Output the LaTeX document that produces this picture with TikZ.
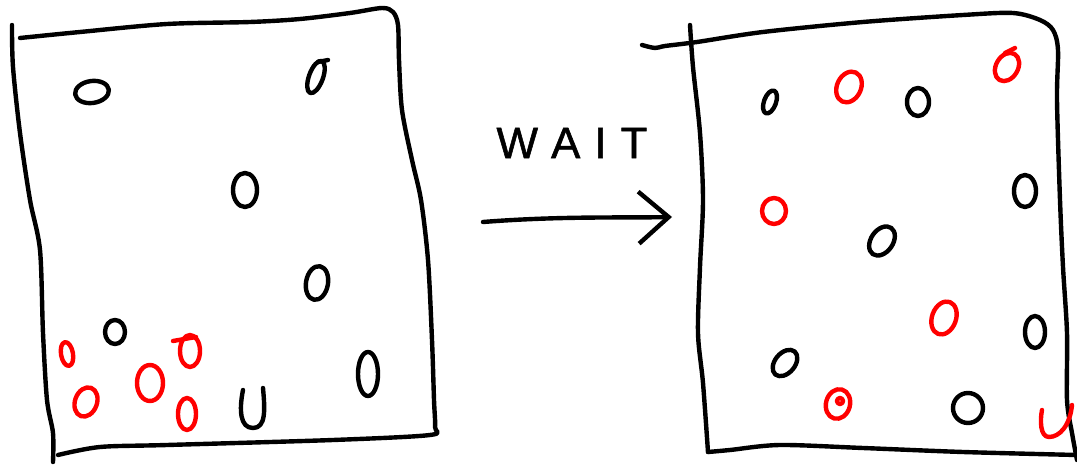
\documentclass[tikz,border=0pt]{standalone}
\usepackage{fontspec}
\setmainfont{Liberation Sans}
\newfontfamily\waitfont[FakeBold=1.2]{Liberation Sans}
\usetikzlibrary{arrows.meta}
\tikzset{
  hand/.style={line width=4.4pt, line cap=round, line join=round},
  blk/.style={hand, draw=black},
  rd/.style={hand, draw=red},
}
\newcommand{\blob}[6]{\draw[#6] (#1,#2) ellipse [x radius=#3pt, y radius=#4pt, rotate=#5];}
\begin{document}
\begin{tikzpicture}[x=1pt, y=-1pt]
\useasboundingbox (0,0) rectangle (1077,465);
% left box
\draw[blk] plot[smooth, tension=0.5] coordinates {(12,25) (13,67) (20,133) (30,200) (40,250) (43,333) (47,400) (53,433) (53,462)};
\draw[blk] plot[smooth, tension=0.5] coordinates {(20,38) (80,32) (167,24) (250,22) (300,19) (350,13) (382,8) (393,12) (398,25) (399,60) (402,110) (412,160) (421,200) (428,260) (432,340) (434,400) (435,427) (430,435) (333,440) (167,445) (100,447) (58,455)};
% right box
\draw[blk] plot[smooth, tension=0.5] coordinates {(690,25) (693,67) (700,133) (703,200) (700,267) (698,333) (703,383) (708,452)};
\draw[blk] plot[smooth, tension=0.5] coordinates {(642,45) (655,48) (665,46) (697,42) (763,32) (863,22) (963,15) (1013,13) (1040,20) (1053,30) (1058,50) (1057,100) (1060,200) (1063,267) (1067,333) (1067,400) (1072,433) (1077,460)};
\draw[blk] plot[smooth, tension=0.5] coordinates {(708,452) (730,450) (780,445) (863,448) (963,452) (1077,455)};
% arrow
\coordinate (a) at (483,222);
\coordinate (b) at (672,217);
\draw[blk, -{Straight Barb[length=30pt, width=52pt, line width=4.4pt]}] (a) .. controls (560,216) and (620,218) .. (b);
\node[font=\waitfont\fontsize{44}{44}\selectfont] (wait) at (572,143) {W\hspace{13pt}A\hspace{14pt}I\hspace{14pt}T};
% left circles
\blob{92}{92}{17}{11}{8}{blk}
\blob{316}{77}{7}{17}{-20}{blk}
\draw[blk] (318,62) -- (328,60);
\blob{245}{190}{12}{17}{0}{blk}
\blob{317}{283}{11}{17}{-10}{blk}
\blob{115}{332}{10}{12}{0}{blk}
\blob{67}{354}{6}{12}{10}{rd}
\blob{190}{351}{10}{16}{0}{rd}
\draw[rd] (173,341) -- (196,337);
\blob{150}{383}{13}{18}{0}{rd}
\blob{86}{402}{11}{15}{-20}{rd}
\blob{187}{414}{9}{16}{0}{rd}
\draw[blk] (243,390) .. controls (239,410) and (240,428) .. (253,428) .. controls (266,428) and (265,410) .. (263,388);
\blob{368}{374}{10}{22}{0}{blk}
% right circles
\blob{770}{102}{6}{12}{-20}{blk}
\blob{849}{87}{12}{16}{-25}{rd}
\blob{918}{102}{11}{14}{0}{blk}
\blob{1007}{67}{11}{15}{-30}{rd}
\draw[rd] (1005,53) -- (1015,48);
\blob{1025}{191}{11}{16}{0}{blk}
\blob{774}{211}{12}{13}{0}{rd}
\blob{882}{241}{11}{16}{-35}{blk}
\blob{944}{318}{12}{17}{-20}{rd}
\blob{1035}{332}{10}{16}{0}{blk}
\blob{785}{363}{10}{15}{-40}{blk}
\blob{838}{404}{12}{15}{-15}{rd}
\draw[rd] (840,401) circle [radius=3pt];
\blob{968}{408}{15}{15}{0}{blk}
\draw[rd] (1072,405) .. controls (1070,425) and (1060,437) .. (1049,437) .. controls (1040,437) and (1040,420) .. (1042,410);
\end{tikzpicture}
\end{document}
